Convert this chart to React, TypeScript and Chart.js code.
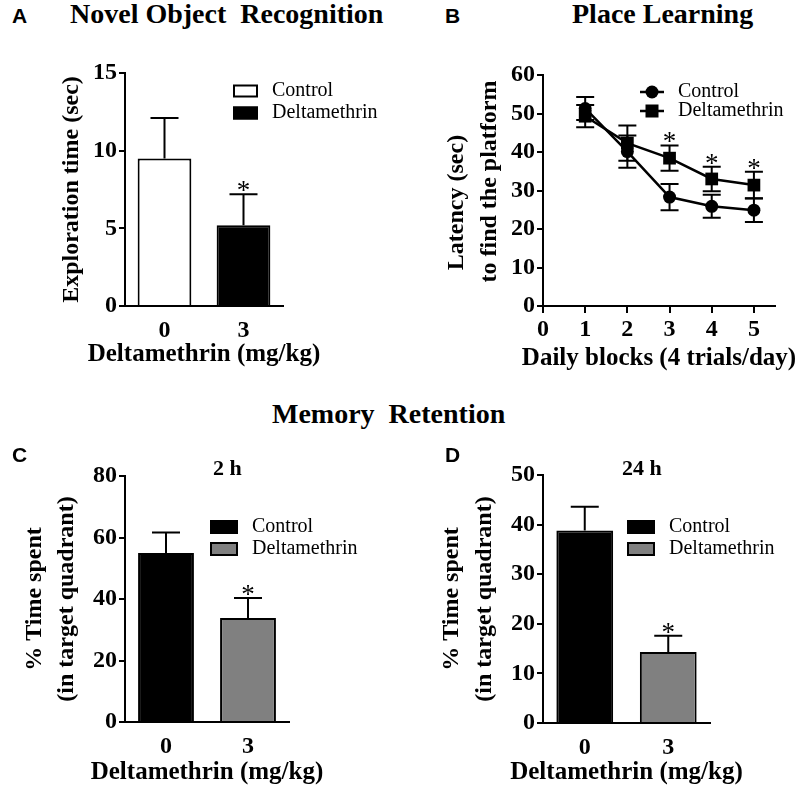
import React, { useEffect, useRef } from 'react';
import { Chart, registerables } from 'chart.js';

Chart.register(...registerables);

const SERIF = '"Liberation Serif", "Times New Roman", Times, serif';
const SANS = '"Liberation Sans", Arial, Helvetica, sans-serif';

// ---------------- data ----------------
const groupNames = ['Control', 'Deltamethrin'];
const doseLabels = ['0', '3'];

// A: Novel object recognition
const norMeans = [9.5, 5.2];
const norSem = [2.6, 2.0];
const norSig = [false, true];
const norAxis = { min: 0, max: 15, step: 5 };

// B: Place learning
const days = [1, 2, 3, 4, 5];
const plControlMeans = [51.3, 40.1, 28.3, 25.9, 24.9];
const plControlSem = [3.0, 4.2, 3.4, 3.0, 3.1];
const plDeltaMeans = [49.3, 42.3, 38.4, 33.0, 31.4];
const plDeltaSem = [2.9, 4.6, 3.3, 3.2, 3.5];
const plSig = [false, false, true, true, true];
const plYAxis = { min: 0, max: 60, step: 10 };
const plXAxis = { min: 0, max: 5.5 };
const plXTicks = [0, 1, 2, 3, 4, 5];

// C: Memory retention 2 h
const ret2hMeans = [55.0, 33.8];
const ret2hSem = [6.6, 6.5];
const ret2hSig = [false, true];
const ret2hAxis = { min: 0, max: 80, step: 20 };

// D: Memory retention 24 h
const ret24hMeans = [38.8, 14.3];
const ret24hSem = [4.8, 3.3];
const ret24hSig = [false, true];
const ret24hAxis = { min: 0, max: 50, step: 10 };

// ---------------- layout helpers ----------------
type Area = { l: number; t: number; r: number; b: number };
type Geom = {
  left: number; top: number; width: number; height: number;
  area: Area; yTitleX: number; yTitleLH: number; xTitleY: number;
};
type LegendItem = {
  kind: 'box' | 'circle' | 'square';
  fill: string; x0: number; w: number; h: number; cy: number; label: string; tx: number;
};

const geomA: Geom = { left: 0, top: 40, width: 400, height: 345, area: { l: 125, t: 73, r: 283, b: 306 }, yTitleX: 72, yTitleLH: 28.8, xTitleY: 355 };
const geomB: Geom = { left: 400, top: 40, width: 400, height: 345, area: { l: 543, t: 75, r: 775, b: 306 }, yTitleX: 457, yTitleLH: 33, xTitleY: 359 };
const geomC: Geom = { left: 0, top: 440, width: 400, height: 351, area: { l: 125, t: 476, r: 289, b: 722 }, yTitleX: 35, yTitleLH: 32, xTitleY: 773 };
const geomD: Geom = { left: 400, top: 440, width: 400, height: 351, area: { l: 543, t: 475, r: 710, b: 723 }, yTitleX: 452, yTitleLH: 33, xTitleY: 773 };

const TICK_FONT = { family: SERIF, size: 24, weight: 'bold' as const };
const TITLE_SIZE = 24;
const XTITLE_SIZE = 25;

function layoutPadding(g: Geom) {
  return { left: 0, top: g.area.t - g.top, right: g.left + g.width - g.area.r, bottom: 0 };
}

function yScale(g: Geom, ax: { min: number; max: number; step: number }, title: string | string[]) {
  return {
    type: 'linear',
    min: ax.min,
    max: ax.max,
    afterFit: (s: any) => { s.width = g.area.l - g.left; },
    ticks: { stepSize: ax.step, color: '#000', font: TICK_FONT, padding: 2 },
    grid: { display: true, drawOnChartArea: false, drawTicks: true, tickLength: 6, color: '#000', lineWidth: 2 },
    border: { display: true, color: '#000', width: 2 },
    title: {
      display: true, text: title, color: '#000', align: 'center',
      font: { family: SERIF, size: TITLE_SIZE, weight: 'bold', lineHeight: g.yTitleLH / TITLE_SIZE },
      padding: { top: g.yTitleX - g.left - g.yTitleLH / 2, bottom: 0 },
    },
  };
}

// x-axis title drawn centred under the plot area without width squeezing
function xTitlePlugin(g: Geom, text: string) {
  return {
    id: 'xAxisTitle',
    afterDraw(chart: any) {
      const ctx = chart.ctx as CanvasRenderingContext2D;
      const a = chart.chartArea;
      ctx.save();
      ctx.fillStyle = '#000';
      ctx.font = `bold ${XTITLE_SIZE}px ${SERIF}`;
      ctx.textAlign = 'center';
      ctx.textBaseline = 'middle';
      ctx.fillText(text, (a.left + a.right) / 2, g.xTitleY - g.top);
      ctx.restore();
    },
  };
}

function legendPlugin(g: Geom, items: LegendItem[]) {
  return {
    id: 'customLegend',
    afterDraw(chart: any) {
      const ctx = chart.ctx as CanvasRenderingContext2D;
      ctx.save();
      for (const it of items) {
        const x0 = it.x0 - g.left;
        const cy = it.cy - g.top;
        ctx.strokeStyle = '#000';
        if (it.kind === 'box') {
          ctx.fillStyle = it.fill;
          ctx.fillRect(x0, cy - it.h / 2, it.w, it.h);
          ctx.lineWidth = 2;
          ctx.strokeRect(x0 + 1, cy - it.h / 2 + 1, it.w - 2, it.h - 2);
        } else {
          ctx.lineWidth = 2.5;
          ctx.beginPath();
          ctx.moveTo(x0, cy);
          ctx.lineTo(x0 + it.w, cy);
          ctx.stroke();
          const cx = x0 + it.w / 2;
          ctx.fillStyle = it.fill;
          if (it.kind === 'circle') {
            ctx.beginPath();
            ctx.arc(cx, cy, it.h / 2, 0, Math.PI * 2);
            ctx.fill();
          } else {
            ctx.fillRect(cx - it.h / 2, cy - it.h / 2, it.h, it.h);
          }
        }
        ctx.fillStyle = '#000';
        ctx.font = `20px ${SERIF}`;
        ctx.textAlign = 'left';
        ctx.textBaseline = 'middle';
        ctx.fillText(it.label, it.tx - g.left, cy);
      }
      ctx.restore();
    },
  };
}

function drawStar(ctx: CanvasRenderingContext2D, x: number, capY: number) {
  ctx.fillStyle = '#000';
  ctx.font = `27px ${SERIF}`;
  ctx.textAlign = 'center';
  ctx.textBaseline = 'alphabetic';
  ctx.fillText('*', x, capY + 5);
}

function barErrorPlugin(sems: number[], sig: boolean[], capHalf: number) {
  return {
    id: 'barErrors',
    afterDatasetsDraw(chart: any) {
      const ctx = chart.ctx as CanvasRenderingContext2D;
      const meta = chart.getDatasetMeta(0);
      const ys = chart.scales.y;
      const data = chart.data.datasets[0].data as number[];
      ctx.save();
      ctx.strokeStyle = '#000';
      ctx.lineWidth = 2;
      meta.data.forEach((el: any, i: number) => {
        const x = el.x;
        const yTop = ys.getPixelForValue(data[i]);
        const yE = ys.getPixelForValue(data[i] + sems[i]);
        ctx.beginPath();
        ctx.moveTo(x, yTop);
        ctx.lineTo(x, yE);
        ctx.moveTo(x - capHalf, yE);
        ctx.lineTo(x + capHalf, yE);
        ctx.stroke();
        if (sig[i]) drawStar(ctx, x, yE);
      });
      ctx.restore();
    },
  };
}

function lineErrorPlugin(semSets: number[][], sig: boolean[], capHalf: number) {
  return {
    id: 'lineErrors',
    beforeDatasetsDraw(chart: any) {
      const ctx = chart.ctx as CanvasRenderingContext2D;
      const xs = chart.scales.x;
      const ys = chart.scales.y;
      ctx.save();
      ctx.strokeStyle = '#000';
      ctx.lineWidth = 2;
      chart.data.datasets.forEach((ds: any, di: number) => {
        ds.data.forEach((p: any, i: number) => {
          const x = xs.getPixelForValue(p.x);
          const y1 = ys.getPixelForValue(p.y + semSets[di][i]);
          const y2 = ys.getPixelForValue(p.y - semSets[di][i]);
          ctx.beginPath();
          ctx.moveTo(x, y1); ctx.lineTo(x, y2);
          ctx.moveTo(x - capHalf, y1); ctx.lineTo(x + capHalf, y1);
          ctx.moveTo(x - capHalf, y2); ctx.lineTo(x + capHalf, y2);
          ctx.stroke();
        });
      });
      ctx.restore();
    },
    afterDatasetsDraw(chart: any) {
      const ctx = chart.ctx as CanvasRenderingContext2D;
      const xs = chart.scales.x;
      const ys = chart.scales.y;
      ctx.save();
      days.forEach((d, i) => {
        if (!sig[i]) return;
        const top = Math.max(plControlMeans[i] + plControlSem[i], plDeltaMeans[i] + plDeltaSem[i]);
        drawStar(ctx, xs.getPixelForValue(d), ys.getPixelForValue(top));
      });
      ctx.restore();
    },
  };
}

function barConfig(
  g: Geom, means: number[], sems: number[], sig: boolean[], colors: string[],
  ax: { min: number; max: number; step: number }, yTitleText: string | string[], legend: LegendItem[],
) {
  return {
    type: 'bar',
    data: {
      labels: doseLabels,
      datasets: [{
        label: 'mean',
        data: means,
        backgroundColor: colors,
        borderColor: '#000',
        borderWidth: 2,
        barPercentage: 0.68,
        categoryPercentage: 1,
      }],
    },
    options: {
      responsive: false,
      animation: false,
      devicePixelRatio: 1,
      layout: { padding: layoutPadding(g), autoPadding: false },
      plugins: { legend: { display: false }, title: { display: false }, tooltip: { enabled: false } },
      scales: {
        x: {
          type: 'category',
          afterFit: (s: any) => { s.height = g.top + g.height - g.area.b; },
          ticks: { color: '#000', font: TICK_FONT, padding: 2 },
          grid: { display: false },
          border: { display: true, color: '#000', width: 2 },
          title: { display: false },
        },
        y: yScale(g, ax, yTitleText),
      },
    },
    plugins: [barErrorPlugin(sems, sig, 14), legendPlugin(g, legend), xTitlePlugin(g, 'Deltamethrin (mg/kg)')],
  };
}

function lineConfig(g: Geom) {
  return {
    type: 'line',
    data: {
      datasets: [
        {
          label: groupNames[0],
          data: days.map((d, i) => ({ x: d, y: plControlMeans[i] })),
          borderColor: '#000', backgroundColor: '#000', borderWidth: 2.5,
          pointStyle: 'circle', pointRadius: 6.5, pointBorderWidth: 0, tension: 0,
        },
        {
          label: groupNames[1],
          data: days.map((d, i) => ({ x: d, y: plDeltaMeans[i] })),
          borderColor: '#000', backgroundColor: '#000', borderWidth: 2.5,
          pointStyle: 'rect', pointRadius: 9, pointBorderWidth: 0, tension: 0,
        },
      ],
    },
    options: {
      responsive: false,
      animation: false,
      devicePixelRatio: 1,
      layout: { padding: layoutPadding(g), autoPadding: false },
      plugins: { legend: { display: false }, title: { display: false }, tooltip: { enabled: false } },
      scales: {
        x: {
          type: 'linear',
          min: plXAxis.min,
          max: plXAxis.max,
          afterFit: (s: any) => { s.height = g.top + g.height - g.area.b; },
          afterBuildTicks: (s: any) => { s.ticks = plXTicks.map((v) => ({ value: v })); },
          ticks: { color: '#000', font: TICK_FONT, padding: 2 },
          grid: { display: true, drawOnChartArea: false, drawTicks: true, tickLength: 7, color: '#000', lineWidth: 2 },
          border: { display: true, color: '#000', width: 2 },
          title: { display: false },
        },
        y: yScale(g, plYAxis, ['Latency (sec)    ', '   to find the platform']),
      },
    },
    plugins: [
      lineErrorPlugin([plControlSem, plDeltaSem], plSig, 9),
      legendPlugin(g, [
        { kind: 'circle', fill: '#000', x0: 640, w: 24, h: 13, cy: 92, label: groupNames[0], tx: 678 },
        { kind: 'square', fill: '#000', x0: 640, w: 24, h: 13, cy: 111, label: groupNames[1], tx: 678 },
      ]),
      xTitlePlugin(g, 'Daily blocks (4 trials/day)'),
    ],
  };
}

function ChartPanel({ geom, build }: { geom: Geom; build: () => any }) {
  const ref = useRef<HTMLCanvasElement>(null);
  useEffect(() => {
    const chart = new Chart(ref.current as HTMLCanvasElement, build());
    return () => chart.destroy();
  }, []);
  return (
    <canvas
      ref={ref}
      width={geom.width}
      height={geom.height}
      style={{ position: 'absolute', left: geom.left, top: geom.top, width: geom.width, height: geom.height }}
    />
  );
}

type Label = { text: string; x: number; y: number; size: number; sans?: boolean };
const labels: Label[] = [
  { text: 'A', x: 12, y: 5, size: 21, sans: true },
  { text: 'Novel Object  Recognition', x: 70, y: 0, size: 28 },
  { text: 'B', x: 445, y: 5, size: 21, sans: true },
  { text: 'Place Learning', x: 572, y: 0, size: 28 },
  { text: 'Memory  Retention', x: 272, y: 400, size: 28 },
  { text: 'C', x: 12, y: 444, size: 21, sans: true },
  { text: 'D', x: 445, y: 444, size: 21, sans: true },
  { text: '2 h', x: 213, y: 457, size: 22 },
  { text: '24 h', x: 622, y: 457, size: 22 },
];

export default function App() {
  return (
    <div style={{ position: 'absolute', left: 0, top: 0, width: 800, height: 791, background: '#fff', overflow: 'hidden' }}>
      <ChartPanel
        geom={geomA}
        build={() => barConfig(geomA, norMeans, norSem, norSig, ['#ffffff', '#000000'], norAxis, 'Exploration time (sec)', [
          { kind: 'box', fill: '#ffffff', x0: 233, w: 25, h: 13, cy: 91, label: groupNames[0], tx: 272 },
          { kind: 'box', fill: '#000000', x0: 233, w: 25, h: 13, cy: 113, label: groupNames[1], tx: 272 },
        ])}
      />
      <ChartPanel geom={geomB} build={() => lineConfig(geomB)} />
      <ChartPanel
        geom={geomC}
        build={() => barConfig(geomC, ret2hMeans, ret2hSem, ret2hSig, ['#000000', '#808080'], ret2hAxis, ['% Time spent', '(in target quadrant)'], [
          { kind: 'box', fill: '#000000', x0: 210, w: 28, h: 14, cy: 527, label: groupNames[0], tx: 252 },
          { kind: 'box', fill: '#808080', x0: 210, w: 28, h: 14, cy: 549, label: groupNames[1], tx: 252 },
        ])}
      />
      <ChartPanel
        geom={geomD}
        build={() => barConfig(geomD, ret24hMeans, ret24hSem, ret24hSig, ['#000000', '#808080'], ret24hAxis, ['% Time spent', '(in target quadrant)'], [
          { kind: 'box', fill: '#000000', x0: 627, w: 28, h: 14, cy: 527, label: groupNames[0], tx: 669 },
          { kind: 'box', fill: '#808080', x0: 627, w: 28, h: 14, cy: 549, label: groupNames[1], tx: 669 },
        ])}
      />
      {labels.map((l, i) => (
        <div
          key={i}
          style={{
            position: 'absolute', left: l.x, top: l.y, fontSize: l.size, lineHeight: 1,
            fontFamily: l.sans ? SANS : SERIF, fontWeight: 'bold', whiteSpace: 'pre', color: '#000',
          }}
        >
          {l.text}
        </div>
      ))}
    </div>
  );
}
